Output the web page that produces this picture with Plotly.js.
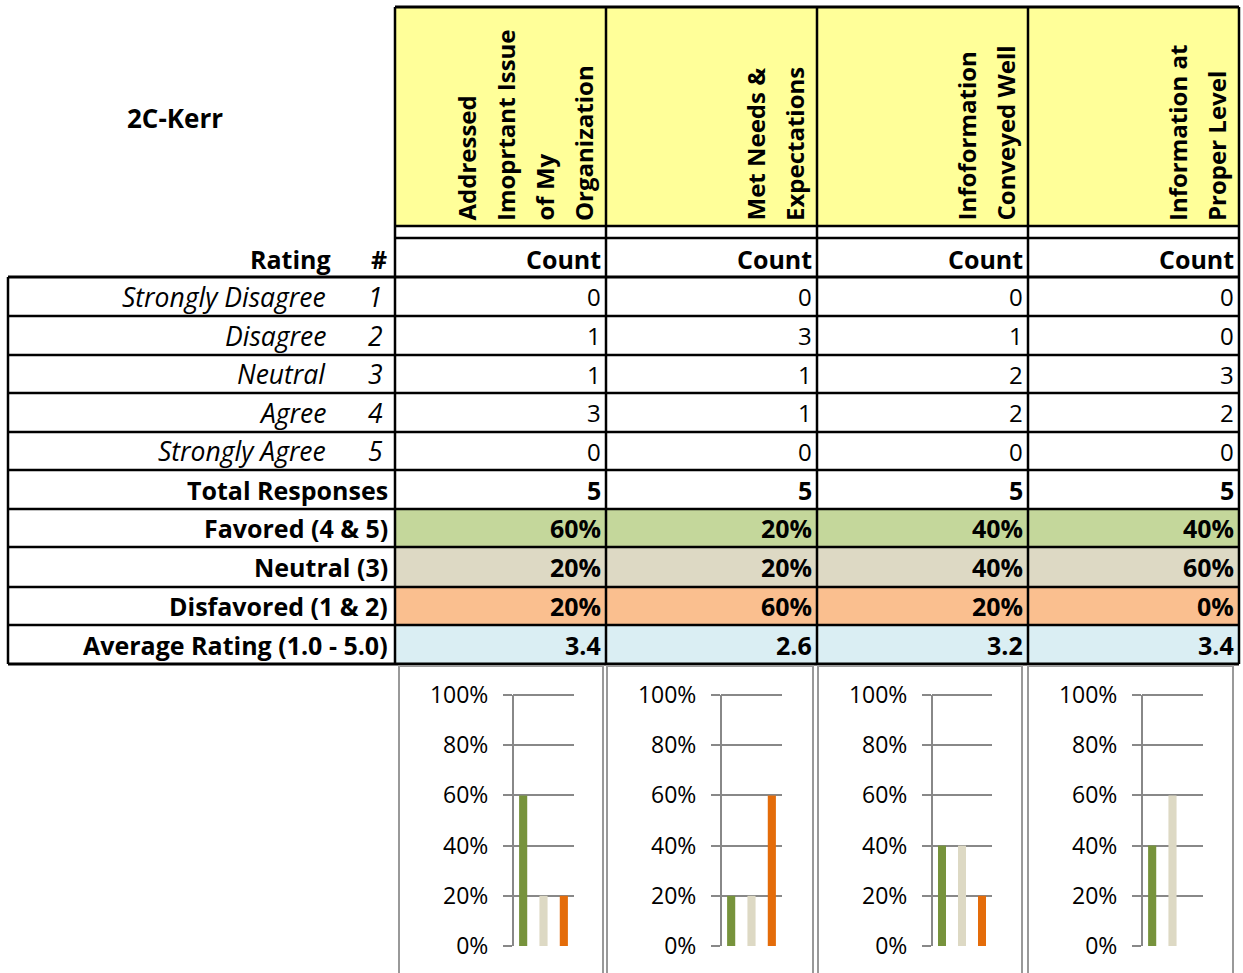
<!DOCTYPE html>
<html><head><meta charset="utf-8">
<script src="https://cdn.plot.ly/plotly-3.0.1.min.js"></script>
<style>html,body{margin:0;padding:0;background:#fff}</style>
</head><body><div id="chart" style="width:1243px;height:973px"></div>
<script>
// ---- data ----
const sheetTitle = '2C-Kerr';
const questions = ['Addressed<br>Imoprtant Issue<br>of My<br>Organization', 'Met Needs &<br>Expectations', 'Infoformation<br>Conveyed Well', 'Information at<br>Proper Level'];
const ratingLabels = ['Strongly Disagree', 'Disagree', 'Neutral', 'Agree', 'Strongly Agree'];
const ratingNums = [1, 2, 3, 4, 5];
const countsQ1 = [0, 1, 1, 3, 0];
const countsQ2 = [0, 3, 1, 1, 0];
const countsQ3 = [0, 1, 2, 2, 0];
const countsQ4 = [0, 0, 3, 2, 0];
const totals = [5, 5, 5, 5];
const favored = [0.6, 0.2, 0.4, 0.4];
const neutral = [0.2, 0.2, 0.4, 0.6];
const disfavored = [0.2, 0.6, 0.2, 0.0];
const avgRating = [3.4, 2.6, 3.2, 3.4];
const summaryLabels = ['Total Responses', 'Favored (4 & 5)', 'Neutral (3)', 'Disfavored (1 & 2)', 'Average Rating (1.0 - 5.0)'];
const barCategories = ['Favored', 'Neutral', 'Disfavored'];
const barColors = ['#77933C', '#DDD9C4', '#E46C0A'];

// ---- layout geometry ----
const W = 1243, H = 973;
const FONT = '"Open Sans", sans-serif';
const colEdges = [395, 606, 817, 1028, 1239];
const rowEdges = [277, 316, 355, 393, 432, 470, 509, 547, 587, 625, 664];
const counts = [countsQ1, countsQ2, countsQ3, countsQ4];
const shapes = [], ann = [];
function rect(x0, y0, x1, y1, fill) { shapes.push({type:'rect', xref:'x', yref:'y', x0, y0, x1, y1, fillcolor:fill, line:{width:0}, layer:'below'}); }
function box(x0, y0, x1, y1, c, w) { shapes.push({type:'rect', xref:'x', yref:'y', x0, y0, x1, y1, fillcolor:'rgba(0,0,0,0)', line:{color:c, width:w}}); }
function line(x0, y0, x1, y1, w) { shapes.push({type:'line', xref:'x', yref:'y', x0, y0, x1, y1, line:{color:'#000', width:w || 2.5}}); }
function txt(x, y, t, o, size) {
  ann.push(Object.assign({xref:'x', yref:'y', x, y, text:t, showarrow:false, xanchor:'right', yanchor:'middle',
    font:{family:FONT, size:size || 24, color:'#000'}}, o || {}));
}
const bold = s => '<b>' + s + '</b>';
const ital = s => '<i>' + s + '</i>';
const pct = v => Math.round(v * 100) + '%';
const BS = 25, IS = 26.5, RS = 24;

// fills
rect(colEdges[0], 7, colEdges[4], 226, '#FFFF99');
const rowFills = ['#C4D79B', '#DDD9C4', '#FABF8F', '#DAEEF3'];
rowFills.forEach((f, i) => rect(colEdges[0], rowEdges[6 + i], colEdges[4], rowEdges[7 + i], f));

// borders
line(colEdges[0], 7, colEdges[4], 7, 3);
line(colEdges[0], 226, colEdges[4], 226);
line(colEdges[0], 238, colEdges[4], 238);
rowEdges.forEach((y, i) => line(8, y, colEdges[4], y, (i === 0 || i === rowEdges.length - 1) ? 3 : 2.5));
colEdges.forEach(x => line(x, 7, x, 664, 2.5));
line(8, 277, 8, 664, 2.5);

// header texts
txt(175, 118, bold(sheetTitle), {xanchor:'center'}, 26);
txt(333, 259, bold('Rating'), {}, BS);
txt(389, 259, bold('#'), {}, BS);
questions.forEach((q, c) => {
  const lines = q.split('<br>');
  const right = colEdges[c + 1];
  lines.forEach((l, k) => {
    const xc = right - 23 - (lines.length - 1 - k) * 39;
    txt(xc, 223, bold(l), {textangle:-90, xanchor:'center', yanchor:'bottom'}, 24);
  });
  txt(right - 3, 259, bold('Count'), {}, BS);
});

// rating rows
const mid = r => (rowEdges[r] + rowEdges[r + 1]) / 2;
ratingLabels.forEach((lab, r) => {
  txt(328, mid(r), ital(lab), {}, IS);
  txt(385, mid(r), ital(String(ratingNums[r])), {}, IS);
  counts.forEach((cs, c) => txt(colEdges[c + 1] - 3, mid(r), String(cs[r]), {}, RS));
});
// summary rows
const summaryVals = [totals.map(String), favored.map(pct), neutral.map(pct), disfavored.map(pct), avgRating.map(v => v.toFixed(1))];
summaryLabels.forEach((lab, i) => {
  const r = 5 + i;
  txt(390, mid(r), bold(lab), {}, BS);
  summaryVals[i].forEach((v, c) => txt(colEdges[c + 1] - 3, mid(r), bold(v), {}, BS));
});

// chart panels
const panels = [[399, 603], [607, 813], [818, 1022], [1028, 1233]];
panels.forEach(p => box(p[0], 666, p[1], 990, '#999', 2));

// ---- traces ----
const traces = [{x:[], y:[], type:'scatter', xaxis:'x', yaxis:'y', hoverinfo:'skip', showlegend:false}];
const plotX = [[513, 574], [721, 782], [932, 992], [1142, 1203]];
const y100 = 695, yBot = 946, yMax = 1.03;
const yTop = yBot - (yBot - y100) * yMax;
const layout = {
  width:W, height:H, margin:{l:0, r:0, t:0, b:0}, paper_bgcolor:'#fff', plot_bgcolor:'rgba(0,0,0,0)',
  showlegend:false, bargap:0.6,
  xaxis:{range:[0, W], domain:[0, 1], visible:false, fixedrange:true},
  yaxis:{range:[H, 0], domain:[0, 1], visible:false, fixedrange:true},
  shapes, annotations:ann
};
const series = [favored, neutral, disfavored];
plotX.forEach((px, i) => {
  const n = i + 2;
  traces.push({type:'bar', x:barCategories, y:series.map(s => s[i]), marker:{color:barColors},
    xaxis:'x' + n, yaxis:'y' + n, hoverinfo:'skip'});
  layout['xaxis' + n] = {domain:[px[0] / W, px[1] / W], anchor:'y' + n, type:'category',
    showticklabels:false, showgrid:false, zeroline:false, showline:false, ticks:'', fixedrange:true};
  layout['yaxis' + n] = {domain:[(H - yBot) / H, (H - yTop) / H], anchor:'x' + n, range:[0, yMax],
    tick0:0, dtick:0.2, tickformat:'.0%', ticks:'outside', ticklen:9, tickwidth:2, tickcolor:'#888',
    showline:false, showgrid:true, gridcolor:'#888', gridwidth:2,
    zeroline:false, fixedrange:true, ticklabelstandoff:10,
    tickfont:{family:FONT, size:23, color:'#000'}};
  // axis line from 0% to 100% only
  shapes.push({type:'line', xref:'x' + n + ' domain', yref:'y' + n, x0:0, x1:0, y0:0, y1:1,
    line:{color:'#888', width:2}});
});
Plotly.newPlot('chart', traces, layout, {staticPlot:true});
</script></body></html>
